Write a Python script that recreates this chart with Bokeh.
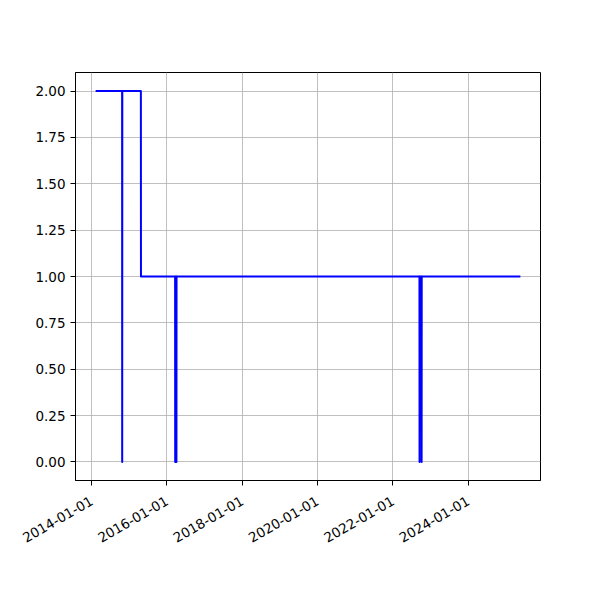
import math
import pandas as pd
from bokeh.plotting import figure
from bokeh.models import Range1d, FixedTicker, DatetimeTickFormatter, NumeralTickFormatter
from bokeh.embed import file_html
from bokeh.resources import INLINE

# Data
dates = ["2014-02-19", "2014-10-24", "2014-10-25", "2014-10-26", "2015-04-24", "2015-04-25",
         "2016-03-21", "2016-03-22", "2016-03-23", "2016-04-02", "2016-04-03", "2016-04-04",
         "2022-09-16", "2022-09-17", "2022-09-18", "2022-10-06", "2022-10-07", "2022-10-08",
         "2025-05-12"]
values = [2, 2, 0, 2, 2, 1,
          1, 0, 1, 1, 0, 1,
          1, 0, 1, 1, 0, 1,
          1]
x_tick_labels = ["2014-01-01", "2016-01-01", "2018-01-01", "2020-01-01", "2022-01-01", "2024-01-01"]
y_ticks = [0.0, 0.25, 0.5, 0.75, 1.0, 1.25, 1.5, 1.75, 2.0]

xs = pd.to_datetime(dates)
x_ms = [t.value / 1e6 for t in xs]
xmin, xmax = min(x_ms), max(x_ms)
xpad = 0.05 * (xmax - xmin)
ymin, ymax = min(values), max(values)
ypad = 0.05 * (ymax - ymin)

p = figure(output_backend="svg", toolbar_location=None,
           x_axis_type="datetime",
           frame_width=465, frame_height=408,
           min_border_left=75, min_border_right=44, min_border_top=72, min_border_bottom=104,
           x_range=Range1d(xmin - xpad, xmax + xpad),
           y_range=Range1d(ymin - ypad, ymax + ypad))
p.background_fill_color = "white"
p.border_fill_color = "white"
p.outline_line_color = "black"
p.outline_line_width = 1
p.outline_line_alpha = 1

p.line(x_ms, values, line_color="blue", line_width=2, line_join="round", line_cap="square")

tick_ms = [pd.Timestamp(d).value / 1e6 for d in x_tick_labels]
p.xaxis.ticker = FixedTicker(ticks=tick_ms)
fmt = "%Y-%m-%d"
p.xaxis.formatter = DatetimeTickFormatter(years=fmt, months=fmt, days=fmt, hours=fmt,
                                          minutes=fmt, seconds=fmt, milliseconds=fmt,
                                          microseconds=fmt, minsec=fmt, hourmin=fmt)
p.xaxis.major_label_orientation = math.pi / 6
p.yaxis.ticker = FixedTicker(ticks=y_ticks)
p.yaxis.formatter = NumeralTickFormatter(format="0.00")

for ax in (p.xaxis[0], p.yaxis[0]):
    ax.major_tick_in = 0
    ax.major_tick_out = 5
    ax.minor_tick_in = 0
    ax.minor_tick_out = 0
    ax.major_tick_line_color = "black"
    ax.axis_line_color = "black"
    ax.major_label_text_font = "DejaVu Sans"
    ax.major_label_text_font_size = "13.5px"
    ax.major_label_text_color = "black"
    ax.major_label_standoff = 5
p.xaxis[0].major_label_standoff = 14

p.grid.grid_line_color = "#b0b0b0"
p.grid.grid_line_width = 0.8

open("out.html", "w").write(file_html(p, INLINE))
